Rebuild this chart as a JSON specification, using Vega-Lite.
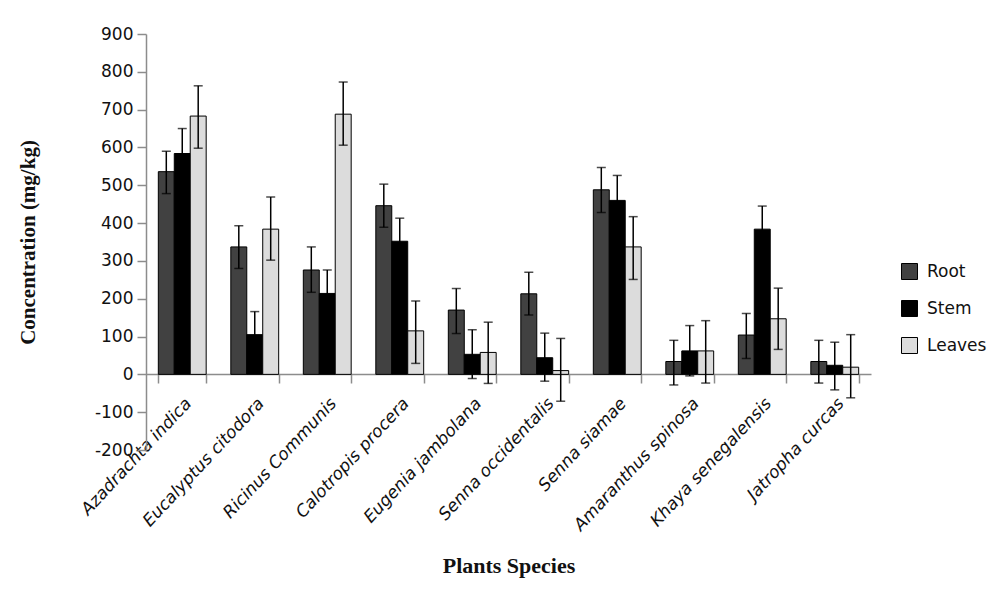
{
  "$schema": "https://vega.github.io/schema/vega-lite/v6.json",
  "autosize": "none",
  "width": 725,
  "height": 416,
  "padding": {"left": 146, "top": 34, "right": 124, "bottom": 143},
  "background": "white",
  "config": {
    "view": {"stroke": null},
    "font": "DejaVu Sans",
    "axisY": {
      "titleFont": "Liberation Serif",
      "titleFontSize": 21,
      "titleFontWeight": "bold",
      "titleColor": "#111111",
      "titlePadding": 56,
      "labelOverlap": false,
      "grid": false,
      "domainColor": "#8c8c8c",
      "domainWidth": 1.5,
      "tickColor": "#8c8c8c",
      "tickWidth": 1.5,
      "tickSize": 9,
      "labelFontSize": 17,
      "labelColor": "#111111",
      "labelPadding": 4
    }
  },
  "data": {
    "values": [
      {"plant": "Azadrachta indica", "part": "Root", "value": 536, "lo": 478, "hi": 590},
      {"plant": "Azadrachta indica", "part": "Stem", "value": 584, "lo": 518, "hi": 650},
      {"plant": "Azadrachta indica", "part": "Leaves", "value": 683, "lo": 598, "hi": 763},
      {"plant": "Eucalyptus citodora", "part": "Root", "value": 337, "lo": 280, "hi": 393},
      {"plant": "Eucalyptus citodora", "part": "Stem", "value": 105, "lo": 44, "hi": 166},
      {"plant": "Eucalyptus citodora", "part": "Leaves", "value": 384, "lo": 302, "hi": 469},
      {"plant": "Ricinus Communis", "part": "Root", "value": 276, "lo": 217, "hi": 337},
      {"plant": "Ricinus Communis", "part": "Stem", "value": 214, "lo": 152, "hi": 276},
      {"plant": "Ricinus Communis", "part": "Leaves", "value": 688, "lo": 606, "hi": 773},
      {"plant": "Calotropis procera", "part": "Root", "value": 446, "lo": 389, "hi": 503},
      {"plant": "Calotropis procera", "part": "Stem", "value": 352, "lo": 291, "hi": 413},
      {"plant": "Calotropis procera", "part": "Leaves", "value": 115, "lo": 29, "hi": 194},
      {"plant": "Eugenia jambolana", "part": "Root", "value": 170, "lo": 108, "hi": 227},
      {"plant": "Eugenia jambolana", "part": "Stem", "value": 53, "lo": -11, "hi": 118},
      {"plant": "Eugenia jambolana", "part": "Leaves", "value": 58, "lo": -24, "hi": 138},
      {"plant": "Senna occidentalis", "part": "Root", "value": 213, "lo": 157, "hi": 270},
      {"plant": "Senna occidentalis", "part": "Stem", "value": 44, "lo": -18, "hi": 109},
      {"plant": "Senna occidentalis", "part": "Leaves", "value": 10, "lo": -71, "hi": 95},
      {"plant": "Senna siamae", "part": "Root", "value": 488, "lo": 428, "hi": 547},
      {"plant": "Senna siamae", "part": "Stem", "value": 460, "lo": 396, "hi": 526},
      {"plant": "Senna siamae", "part": "Leaves", "value": 337, "lo": 251, "hi": 417},
      {"plant": "Amaranthus spinosa", "part": "Root", "value": 34, "lo": -28, "hi": 90},
      {"plant": "Amaranthus spinosa", "part": "Stem", "value": 62, "lo": -4, "hi": 129},
      {"plant": "Amaranthus spinosa", "part": "Leaves", "value": 62, "lo": -23, "hi": 142},
      {"plant": "Khaya senegalensis", "part": "Root", "value": 104, "lo": 42, "hi": 161},
      {"plant": "Khaya senegalensis", "part": "Stem", "value": 384, "lo": 323, "hi": 445},
      {"plant": "Khaya senegalensis", "part": "Leaves", "value": 147, "lo": 66, "hi": 228},
      {"plant": "Jatropha curcas", "part": "Root", "value": 34, "lo": -23, "hi": 90},
      {"plant": "Jatropha curcas", "part": "Stem", "value": 24, "lo": -41, "hi": 85},
      {"plant": "Jatropha curcas", "part": "Leaves", "value": 19, "lo": -62, "hi": 105}
    ]
  },
  "encoding": {
    "x": {
      "field": "plant",
      "type": "nominal",
      "sort": null,
      "scale": {"paddingInner": 0.34, "paddingOuter": 0.17},
      "axis": {
        "title": "Plants Species",
        "titleFont": "Liberation Serif",
        "titleFontSize": 22,
        "titleFontWeight": "bold",
        "titleColor": "#111111",
        "titlePadding": 22,
        "offset": -76,
        "domainColor": "#8c8c8c",
        "domainWidth": 1.5,
        "tickColor": "#8c8c8c",
        "tickWidth": 1.5,
        "tickSize": 9,
        "tickBand": "extent",
        "labelAngle": -47,
        "labelAlign": "right",
        "labelBaseline": "top",
        "labelFontSize": 17,
        "labelFontStyle": "italic",
        "labelColor": "#111111",
        "labelPadding": 12,
        "labelDx": 12
      }
    },
    "xOffset": {
      "field": "part",
      "type": "nominal",
      "sort": ["Root", "Stem", "Leaves"],
      "scale": {"paddingInner": 0, "paddingOuter": 0}
    }
  },
  "layer": [
    {
      "mark": {"type": "bar", "stroke": "#000000", "strokeWidth": 1},
      "encoding": {
        "y": {
          "field": "value",
          "type": "quantitative",
          "scale": {"domain": [-200, 900], "nice": false, "zero": false},
          "axis": {
            "title": "Concentration (mg/kg)",
            "values": [-200, -100, 0, 100, 200, 300, 400, 500, 600, 700, 800, 900],
            "labelExpr": "'' + datum.value"
          }
        },
        "color": {
          "field": "part",
          "type": "nominal",
          "sort": ["Root", "Stem", "Leaves"],
          "scale": {"domain": ["Root", "Stem", "Leaves"], "range": ["#414141", "#000000", "#dcdcdc"]},
          "legend": {
            "title": null,
            "orient": "none",
            "legendX": 755,
            "legendY": 229,
            "padding": 0,
            "symbolType": "square",
            "symbolSize": 256,
            "symbolStrokeColor": "#000000",
            "symbolStrokeWidth": 1,
            "symbolOpacity": 1,
            "labelFontSize": 17,
            "labelColor": "#111111",
            "labelOffset": 9,
            "rowPadding": 16
          }
        }
      }
    },
    {
      "mark": {"type": "rule", "color": "#000000", "strokeWidth": 1.5},
      "encoding": {
        "y": {
          "field": "lo",
          "type": "quantitative",
          "axis": {
            "title": "Concentration (mg/kg)",
            "values": [-200, -100, 0, 100, 200, 300, 400, 500, 600, 700, 800, 900],
            "labelExpr": "'' + datum.value"
          }
        },
        "y2": {"field": "hi"}
      }
    },
    {
      "mark": {"type": "tick", "color": "#000000", "thickness": 1.5, "size": 9, "orient": "horizontal"},
      "encoding": {
        "y": {
          "field": "lo",
          "type": "quantitative",
          "axis": {
            "title": "Concentration (mg/kg)",
            "values": [-200, -100, 0, 100, 200, 300, 400, 500, 600, 700, 800, 900],
            "labelExpr": "'' + datum.value"
          }
        }
      }
    },
    {
      "mark": {"type": "tick", "color": "#000000", "thickness": 1.5, "size": 9, "orient": "horizontal"},
      "encoding": {
        "y": {
          "field": "hi",
          "type": "quantitative",
          "axis": {
            "title": "Concentration (mg/kg)",
            "values": [-200, -100, 0, 100, 200, 300, 400, 500, 600, 700, 800, 900],
            "labelExpr": "'' + datum.value"
          }
        }
      }
    }
  ]
}
